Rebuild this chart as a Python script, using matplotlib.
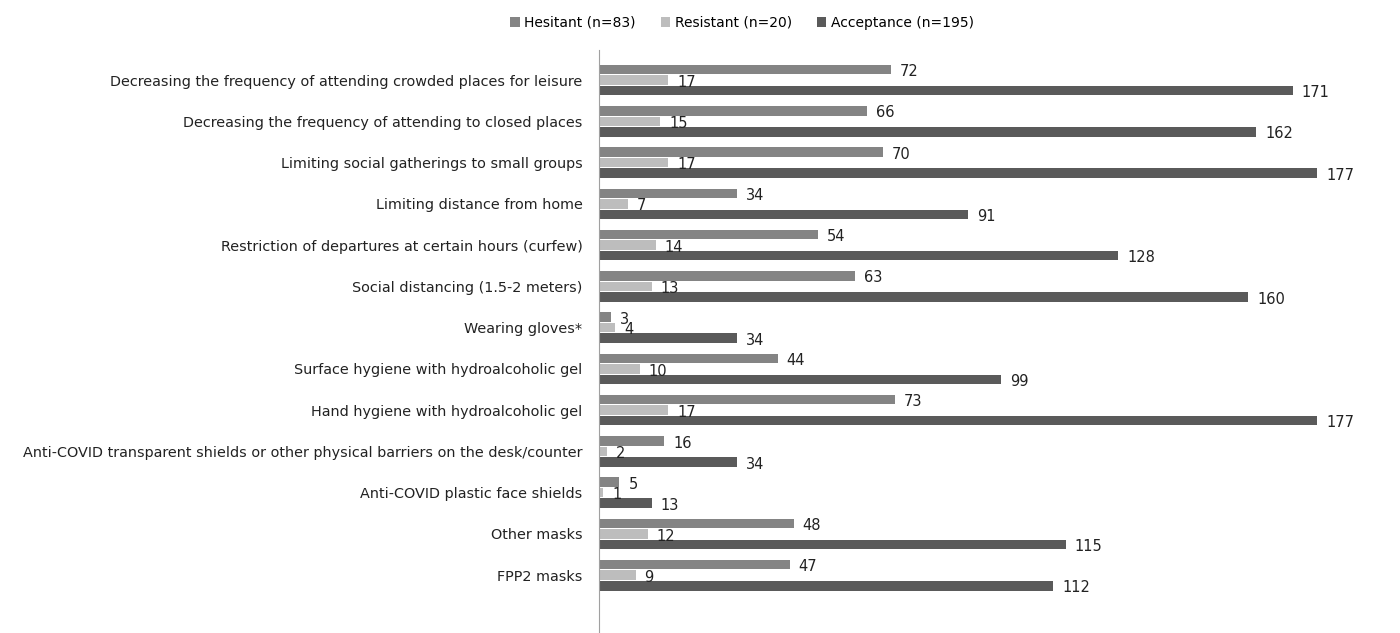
import numpy as np
import matplotlib.pyplot as plt

categories = [
    'Decreasing the frequency of attending crowded places for leisure',
    'Decreasing the frequency of attending to closed places',
    'Limiting social gatherings to small groups',
    'Limiting distance from home',
    'Restriction of departures at certain hours (curfew)',
    'Social distancing (1.5-2 meters)',
    'Wearing gloves*',
    'Surface hygiene with hydroalcoholic gel',
    'Hand hygiene with hydroalcoholic gel',
    'Anti-COVID transparent shields or other physical barriers on the desk/counter',
    'Anti-COVID plastic face shields',
    'Other masks',
    'FPP2 masks',
]
hesitant = [72, 66, 70, 34, 54, 63, 3, 44, 73, 16, 5, 48, 47]
resistant = [17, 15, 17, 7, 14, 13, 4, 10, 17, 2, 1, 12, 9]
acceptance = [171, 162, 177, 91, 128, 160, 34, 99, 177, 34, 13, 115, 112]

series = [
    ('Hesitant (n=83)', hesitant, '#848484', -0.255),
    ('Resistant (n=20)', resistant, '#bdbdbd', 0.0),
    ('Acceptance (n=195)', acceptance, '#5a5a5a', 0.255),
]

fig = plt.figure(figsize=(14, 6.33), dpi=100)
ax = fig.add_axes([0.428, 0.0, 0.562, 0.921])

y = np.arange(len(categories))
for name, vals, col, off in series:
    bars = ax.barh(y + off, vals, height=0.23, color=col, label=name)
    for b, v in zip(bars, vals):
        ax.text(b.get_width() + 2.2, b.get_y() + b.get_height() / 2 + 0.05, str(v),
                va='center', ha='left', fontsize=10.5, color='#222222')

ax.set_yticks(y)
ax.set_yticklabels(categories, fontsize=10.4, color='#222222')
ax.tick_params(axis='y', length=0, pad=12)
ax.set_xticks([])
ax.set_xlim(0, 194)
ax.set_ylim(13.4, -0.73)
for s in ['top', 'right', 'bottom']:
    ax.spines[s].set_visible(False)
ax.spines['left'].set_color('#a0a0a0')

fig.legend(loc='upper center', bbox_to_anchor=(0.53, 0.995), ncol=3, frameon=False,
           fontsize=10, handlelength=0.7, handleheight=0.7, handletextpad=0.3,
           columnspacing=1.8)

fig.savefig('out.png', dpi=100)
